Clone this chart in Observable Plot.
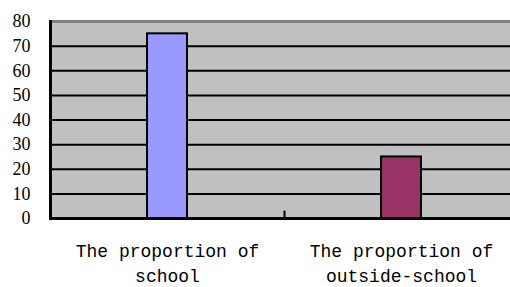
<!DOCTYPE html>
<html>
<head>
<meta charset="utf-8">
<script src="https://cdn.jsdelivr.net/npm/d3@7"></script>
<script src="https://cdn.jsdelivr.net/npm/@observablehq/plot@0.6"></script>
<style>
  html, body { margin: 0; padding: 0; background: #ffffff; }
  #chart svg { display: block; }
  #chart svg g.ylab text { font-family: "Liberation Serif", "DejaVu Serif", serif !important; font-size: 18px !important; }
</style>
</head>
<body>
<div id="chart"></div>
<script>
const categories = ["The proportion of\nschool", "The proportion of\noutside-school"];
const values = [75, 25];
const colors = ["#9999FF", "#993366"];
const yTicks = [0, 10, 20, 30, 40, 50, 60, 70, 80];
const gridValues = [10, 20, 30, 40, 50, 60, 70];

const data = categories.map((c, i) => ({category: c, value: values[i], color: colors[i]}));

const chart = Plot.plot({
  width: 510,
  height: 287,
  marginLeft: 50,
  marginRight: 0,
  marginTop: 21,
  marginBottom: 69,
  style: {background: "#ffffff", overflow: "visible", fontFamily: "'Liberation Serif', serif"},
  x: {domain: categories, range: [49.5, 518.5], paddingInner: 0.83, paddingOuter: 0.415, label: null},
  y: {domain: [0, 80], label: null, axis: null},
  marks: [
    Plot.frame({fill: "#c0c0c0", stroke: null}),
    Plot.ruleY(gridValues, {stroke: "#000000", strokeWidth: 2}),
    Plot.ruleY([80], {stroke: "#808080", strokeWidth: 3}),
    Plot.barY(data, {x: "category", y: "value", fill: "color", stroke: "#000000", strokeWidth: 2}),
    Plot.ruleY([0], {stroke: "#000000", strokeWidth: 3}),
    Plot.frame({anchor: "left", stroke: "#000000", strokeWidth: 3}),
    Plot.ruleX([categories[1]], {y1: 0, y2: 3, dx: -117, stroke: "#000000", strokeWidth: 2}),
    Plot.text(yTicks, {y: d => d, text: d => String(d), frameAnchor: "left", textAnchor: "end", dx: -20,
      fontSize: 18, fontFamily: "Liberation Serif", fill: "#000000", className: "ylab"}),
    Plot.axisX({tickSize: 0, tickPadding: 21, fontSize: 18, lineHeight: 1.39, fontFamily: "Liberation Mono", fill: "#000000", label: null})
  ]
});
d3.select(chart).selectAll("g[aria-label='text'] text").classed("ylabtext", true)
  .style("font-family", "'Liberation Serif', serif");
document.getElementById("chart").appendChild(chart);
</script>
</body>
</html>
